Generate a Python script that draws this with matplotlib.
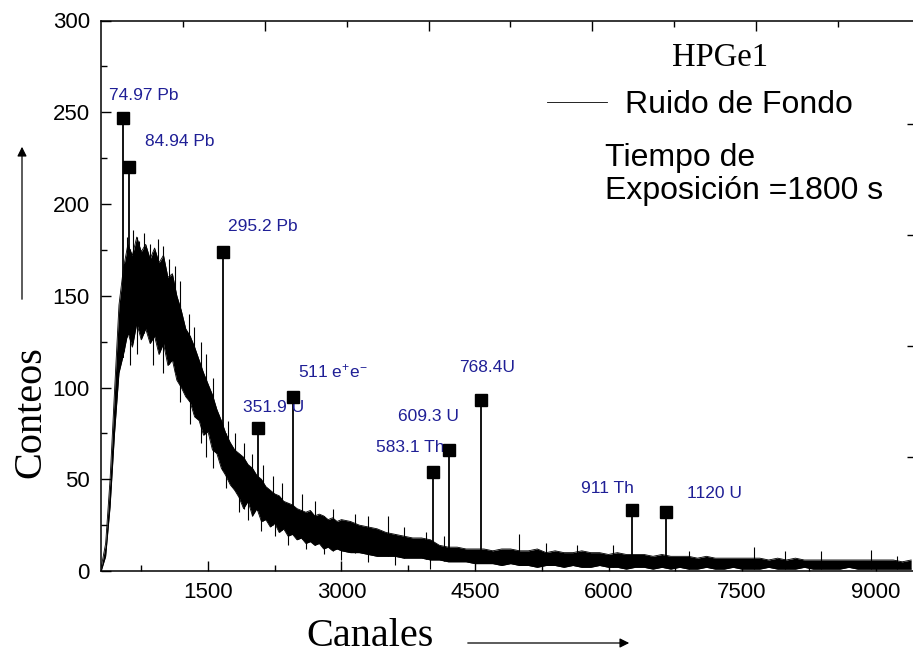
import numpy as np
import matplotlib
matplotlib.use('Agg')
import matplotlib.pyplot as plt
from matplotlib.ticker import MultipleLocator, FixedLocator

plt.rcParams['font.family'] = ['Liberation Sans', 'DejaVu Sans']
plt.rcParams['mathtext.fontset'] = 'custom'
plt.rcParams['mathtext.rm'] = 'Liberation Sans'
plt.rcParams['mathtext.it'] = 'Liberation Sans:italic'

channels = np.concatenate([np.arange(300, 3000, 50), np.arange(3000, 9500, 100)])
band_low = [0, 8, 35, 75, 108, 118, 130, 122, 135, 126,
            132, 124, 128, 118, 124, 112, 115, 104, 100, 95,
            92, 84, 82, 74, 76, 66, 64, 56, 52, 47,
            44, 40, 34, 38, 30, 34, 27, 28, 24, 26,
            21, 23, 19, 20, 17, 18, 15, 16, 14, 15,
            12, 13, 11, 12,
            11, 10, 10, 9, 8, 8, 8, 7, 7, 7,
            6, 6, 5, 5, 5, 4, 4, 4, 3, 4,
            3, 3, 2, 3, 3, 2, 3, 2, 2, 3,
            2, 2, 1, 2, 2, 1, 2, 1, 2, 1,
            1, 2, 1, 1, 2, 1, 1, 1, 2, 1,
            1, 1, 2, 1, 1, 1, 1, 2, 1, 1,
            1, 1, 1, 1, 1]
band_high = [2, 15, 50, 98, 145, 165, 178, 172, 182, 174,
             178, 170, 176, 168, 172, 160, 162, 150, 142, 132,
             128, 122, 115, 108, 102, 96, 88, 82, 75, 70,
             66, 64, 62, 58, 56, 52, 50, 46, 44, 42,
             41, 38, 37, 36, 34, 33, 32, 33, 30, 31,
             30, 28, 29, 27,
             28, 27, 25, 24, 23, 21, 20, 19, 18, 18,
             17, 14, 13, 13, 12, 12, 12, 11, 12, 12,
             11, 11, 12, 10, 11, 10, 10, 11, 10, 10,
             9, 10, 9, 9, 9, 8, 9, 8, 8, 8,
             7, 8, 7, 7, 7, 7, 7, 7, 6, 7,
             6, 7, 6, 6, 6, 6, 6, 6, 6, 6,
             6, 6, 6, 5, 6]

# single noise spikes standing out above the band
spike_ch = [590, 660, 720, 780, 850, 935, 996, 1060, 1130, 1180, 1290, 1340, 1420,
            1480, 1560, 1720, 1800, 1900, 2000, 2120, 2230, 2330, 2560, 2700, 2900,
            3150, 3300, 3522, 3700, 3950, 4150, 4990, 5300, 5650, 6050, 6900, 7635,
            7983, 8387, 8950, 9240]
spike_counts = [182, 186, 180, 184, 178, 181, 177, 170, 166, 158, 140, 133, 125,
                118, 105, 82, 75, 70, 64, 58, 52, 48, 42, 38, 34,
                31, 30, 30, 24, 21, 19, 20, 15, 14, 14, 11, 13,
                11, 11, 11.5, 8]

# single dips reaching below the band
dip_ch = [560, 620, 700, 880, 1000, 1180, 1300, 1420, 1480, 1560, 1700, 1850, 1950,
          2100, 2250, 2400, 2600, 2800, 3000, 3300, 3600, 4000]
dip_counts = [120, 112, 118, 112, 108, 92, 80, 70, 62, 56, 45, 32, 28,
              22, 19, 14, 12, 9, 6, 5, 3, 1]

# identified peaks
peak_ch = [541, 609, 1665, 2058, 2451, 4032, 4212, 4568, 6260, 6646]
peak_counts = [247, 220, 174, 78, 95, 54, 66, 93, 33, 32]
peak_names = ['74.97 Pb', '84.94 Pb', '295.2 Pb', '351.9 U', '511 e$^{+}$e$^{-}$',
              '583.1 Th', '609.3 U', '768.4U', '911 Th', '1120 U']
label_dx = [-14, 16, 5, -15, 5, -57, -51, -22, -51, 21]
label_dy = [22, 26, 25, 20, 25, 24, 33, 33, 22, 19]

fig = plt.figure(figsize=(9.13, 6.53), dpi=100)
ax = fig.add_axes([101 / 913, 82 / 653, 812 / 913, 550.5 / 653])

ax.fill_between(channels, band_low, band_high, color='black', lw=0, zorder=2)
ax.plot(channels, band_high, color='black', lw=0.6, zorder=2, label='Ruido de Fondo')
ax.plot(channels, band_low, color='black', lw=0.6, zorder=2)
# spikes and peaks rise from the band, dips hang from it
spike_base = np.interp(spike_ch, channels, band_low)
ax.vlines(spike_ch, spike_base, spike_counts, color='black', lw=0.8, zorder=2)
dip_top = np.interp(dip_ch, channels, band_high)
ax.vlines(dip_ch, dip_counts, dip_top, color='black', lw=0.8, zorder=2)
peak_base = np.interp(peak_ch, channels, band_low)
ax.vlines(peak_ch, peak_base, peak_counts, color='black', lw=1.3, zorder=3)
ax.plot(peak_ch, peak_counts, 's', color='black', ms=8.5, ls='none', zorder=4)

for ch, c, name, dx, dy in zip(peak_ch, peak_counts, peak_names, label_dx, label_dy):
    ax.annotate(name, xy=(ch, c), xytext=(dx, dy), textcoords='offset pixels',
                ha='left', va='center', fontsize=12.5, color='#1f1f96')

ax.set_xlim(298, 9421)
ax.set_ylim(0, 300)
ax.xaxis.set_major_locator(MultipleLocator(1500))
ax.xaxis.set_minor_locator(MultipleLocator(750))
ax.yaxis.set_major_locator(MultipleLocator(50))
ax.yaxis.set_minor_locator(MultipleLocator(25))
ax.tick_params(which='both', direction='in', top=False, right=False, width=1, labelsize=16, pad=8)
ax.tick_params(which='major', length=7.5)
ax.tick_params(which='minor', length=4)
ax.spines['right'].set_visible(False)
for s in ['left', 'bottom', 'top']:
    ax.spines[s].set_linewidth(1.1)

# ticks of the overlaid frame (top and right edges)
ax_top = ax.twiny()
ax_top.set_xlim(0, 9.915)
ax_top.xaxis.set_major_locator(FixedLocator([2, 4, 6, 8]))
ax_top.xaxis.set_minor_locator(FixedLocator([1, 3, 5, 7, 9]))
ax_top.tick_params(which='both', direction='in', top=True, bottom=False,
                   labeltop=False, labelbottom=False, width=1)
ax_top.tick_params(which='major', length=7.5)
ax_top.tick_params(which='minor', length=4)
ax_right = ax.twinx()
ax_right.set_ylim(-0.03, 4.93)
ax_right.yaxis.set_major_locator(FixedLocator([1, 2, 3, 4]))
ax_right.tick_params(direction='in', right=True, left=False, labelright=False,
                     labelleft=False, length=4.5, width=1)
for a in (ax_top, ax_right):
    for s in a.spines.values():
        s.set_visible(False)

ax.set_xlabel('Canales', family='Liberation Serif', fontsize=29)
ax.xaxis.set_label_coords(0.331, -0.085)
ax.set_ylabel('Conteos', family='Liberation Serif', fontsize=29)
ax.yaxis.set_label_coords(-0.064, 0.289)

ax.legend(loc='center left', bbox_to_anchor=(0.549, 0.8465), frameon=False, fontsize=23,
          handlelength=1.88, handletextpad=0.56, borderpad=0, borderaxespad=0)
ax.text(0.762, 0.932, 'HPGe1', transform=ax.transAxes, ha='center', va='center',
        family='Liberation Serif', fontsize=23.5)
ax.text(0.6207, 0.7203, 'Tiempo de\nExposición =1800 s', transform=ax.transAxes,
        ha='left', va='center', fontsize=23, linespacing=1.1)

ax.annotate('', xy=(22, 509), xytext=(22, 351), xycoords='figure pixels',
            arrowprops=dict(arrowstyle='-|>', color='black', lw=0.9, mutation_scale=14))
ax.annotate('', xy=(632, 10), xytext=(465, 10), xycoords='figure pixels',
            arrowprops=dict(arrowstyle='-|>', color='black', lw=0.9, mutation_scale=14))

fig.savefig('out.png', dpi=100)
